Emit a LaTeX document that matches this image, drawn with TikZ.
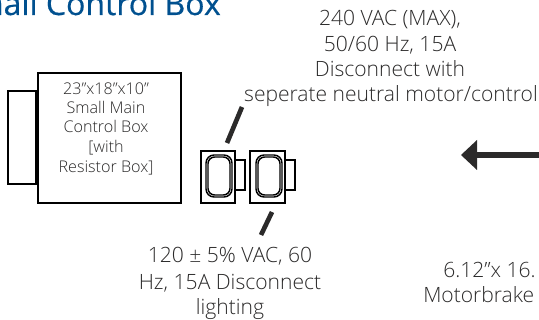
\documentclass[tikz,border=0pt]{standalone}
\usepackage{fontspec}
\setmainfont{Open Sans Light}[BoldFont=Open Sans,BoldFeatures={FakeBold=0.5}]
\definecolor{titleblue}{HTML}{00508F}
\definecolor{ink}{HTML}{2B2A2A}
\tikzset{
 lbl/.style={font=\fontsize{15.8pt}{18pt}\selectfont,text=ink,align=center,inner sep=0pt},
 boxlbl/.style={font=\fontsize{12.1pt}{14pt}\selectfont,text=ink,align=center,inner sep=0pt},
 box/.style={draw=black,line width=2.1pt,fill=white},
 sw/.style={draw=black,line width=1.1pt,fill=white},
 tick/.style={draw=ink,line width=3.5pt},
}
\begin{document}
\begin{tikzpicture}[x=0.75pt,y=-0.75pt]
\useasboundingbox (0,0) rectangle (539,320);
\clip (0,0) rectangle (539,320);
\node[anchor=base east,inner sep=0pt,font=\fontsize{24pt}{28pt}\selectfont\bfseries,text=titleblue] (title) at (221,15) {Small Control Box};
% top label
\node[lbl,anchor=base] (t1) at (390,26) {240 VAC (MAX),};
\node[lbl,anchor=base] (t2) at (390,52) {50/60 Hz, 15A};
\node[lbl,anchor=base] (t3) at (390,77) {Disconnect with};
\node[lbl,anchor=base] (t4) at (391,102) {seperate neutral motor/control};
% main box
\draw[box] (8,91) rectangle (36,184);
\draw[box] (38,73) rectangle (181,203);
\node[boxlbl,anchor=base] (m1) at (106,95) {23”x18”x10”};
\node[boxlbl,anchor=base] (m2) at (106,114) {Small Main};
\node[boxlbl,anchor=base] (m3) at (106,133) {Control Box};
\node[boxlbl,anchor=base] (m4) at (106,153) {[with};
\node[boxlbl,anchor=base] (m5) at (106,173) {Resistor Box]};
% disconnects
\draw[sw] (235,160) rectangle (245,190);
\draw[sw] (201,151) rectangle (235,203);
\draw[sw,rounded corners=6pt] (206,155) rectangle (232,197);
\draw[sw,rounded corners=5pt] (208,157) rectangle (230,195);
\draw[sw] (285,160) rectangle (295,190);
\draw[sw] (250,151) rectangle (285,203);
\draw[sw,rounded corners=6pt] (256,155) rectangle (282,197);
\draw[sw,rounded corners=5pt] (258,157) rectangle (280,195);
% ticks
\coordinate (a1) at (242,107);
\coordinate (a2) at (227,143);
\coordinate (b1) at (272,212);
\coordinate (b2) at (261,235);
\draw[tick] (a1) -- (a2);
\draw[tick] (b1) -- (b2);
% bottom label
\node[lbl,anchor=base] (l1) at (230,263) {120 ± 5\% VAC, 60};
\node[lbl,anchor=base] (l2) at (230,290) {Hz, 15A Disconnect};
\node[lbl,anchor=base] (l3) at (230,315) {lighting};
% arrow
\coordinate (ar) at (539,155);
\coordinate (al) at (477,155);
\draw[draw=ink,line width=3.8pt] (ar) -- (al);
\fill[ink] (461,155) -- (477,140) -- (477,170) -- cycle;
% right label
\node[lbl,anchor=base west] (r1) at (443,278) {6.12”x 16.};
\node[lbl,anchor=base west] (r2) at (423,303) {Motorbrake};
\end{tikzpicture}
\end{document}
